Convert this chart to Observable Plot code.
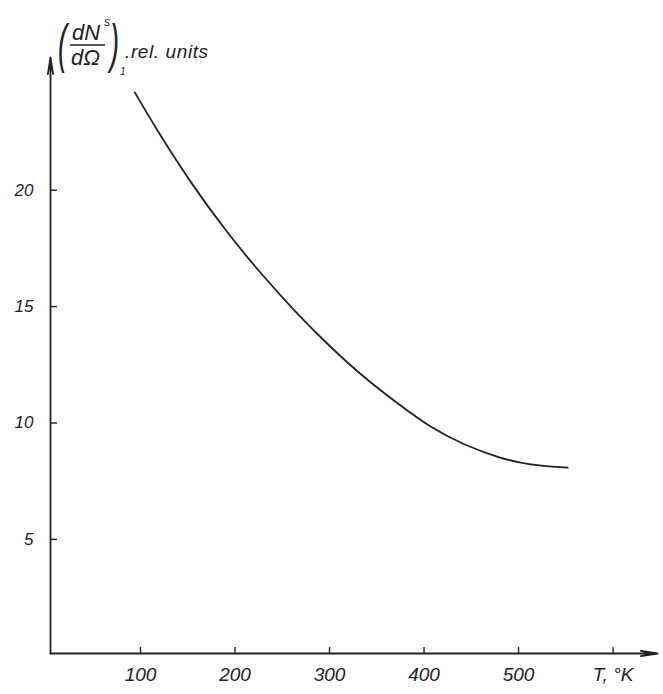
<!DOCTYPE html>
<html><head><meta charset="utf-8">
<script src="https://cdn.jsdelivr.net/npm/d3@7"></script>
<script src="https://cdn.jsdelivr.net/npm/@observablehq/plot@0.6"></script>
<style>body{margin:0;background:#fff}</style>
</head><body><div id="chart"></div>
<script>
// Data
const temperature = [94, 119, 155, 190, 225, 266, 303, 336, 372, 407, 442, 478, 513, 552];
const intensity   = [24.2, 22.5, 20.25, 18.3, 16.55, 14.7, 13.2, 12.0, 10.85, 9.85, 9.1, 8.55, 8.22, 8.08];
const yTicks = [5, 10, 15, 20];
const xTicks = [100, 200, 300, 400, 500, 600];
const xTickLabels = ["100", "200", "300", "400", "500", "T, °K"];

const data = temperature.map((t, i) => ({t, v: intensity[i]}));
const xMin = 4.8, xMax = 647, yMin = 0.1, yMax = 25.7;
const ink = "#222";
const font = "Liberation Sans";

const plot = Plot.plot({
  width: 663, height: 694,
  marginLeft: 50, marginRight: 6, marginTop: 57, marginBottom: 41,
  style: {fontFamily: font, background: "#fff", color: ink},
  x: {domain: [xMin, xMax]},
  y: {domain: [yMin, yMax]},
  marks: [
    Plot.axisY(yTicks, {anchor: "left", tickSize: -7, tickPadding: 24, label: null,
      fontSize: 17, fontStyle: "italic", stroke: ink, strokeWidth: 1.4, fill: ink}),
    Plot.axisX(xTicks, {anchor: "bottom", tickSize: -6, tickPadding: 20, label: null,
      tickFormat: (d) => xTickLabels[xTicks.indexOf(d)],
      fontSize: 19, fontStyle: "italic", stroke: ink, strokeWidth: 1.4, fill: ink}),
    Plot.arrow([{x1: xMin, y1: yMin, x2: xMin, y2: yMax}],
      {x1: "x1", y1: "y1", x2: "x2", y2: "y2", stroke: ink, strokeWidth: 1.8, headAngle: 18, headLength: 14}),
    Plot.arrow([{x1: xMin, y1: yMin, x2: xMax, y2: yMin}],
      {x1: "x1", y1: "y1", x2: "x2", y2: "y2", stroke: ink, strokeWidth: 1.8, headAngle: 18, headLength: 14}),
    Plot.line(data, {x: "t", y: "v", curve: "natural", stroke: ink, strokeWidth: 1.8})
  ]
});

// Y axis title: (dN^s / dΩ)_1, rel. units
const svg = d3.select(plot);
const g = svg.append("g").attr("font-family", font).attr("font-style", "italic")
  .attr("fill", ink).attr("text-anchor", "start");
g.append("text").attr("transform", "translate(58,62) scale(0.5,1)").attr("font-size", 54).text("(");
g.append("text").attr("x", 72).attr("y", 40).attr("font-size", 22).text("dN");
g.append("text").attr("x", 104).attr("y", 26).attr("font-size", 12).text("s");
g.append("line").attr("x1", 70).attr("x2", 105).attr("y1", 45).attr("y2", 45).attr("stroke", ink).attr("stroke-width", 1.6);
g.append("text").attr("x", 71).attr("y", 65).attr("font-size", 22).text("dΩ");
g.append("text").attr("transform", "translate(110,62) scale(0.5,1)").attr("font-size", 54).text(")");
g.append("text").attr("x", 120).attr("y", 75).attr("font-size", 10).text("1");
g.append("text").attr("x", 125).attr("y", 58).attr("font-size", 19).attr("letter-spacing", 0.6).text(".rel. units");

document.getElementById("chart").append(plot);
</script>
</body></html>
